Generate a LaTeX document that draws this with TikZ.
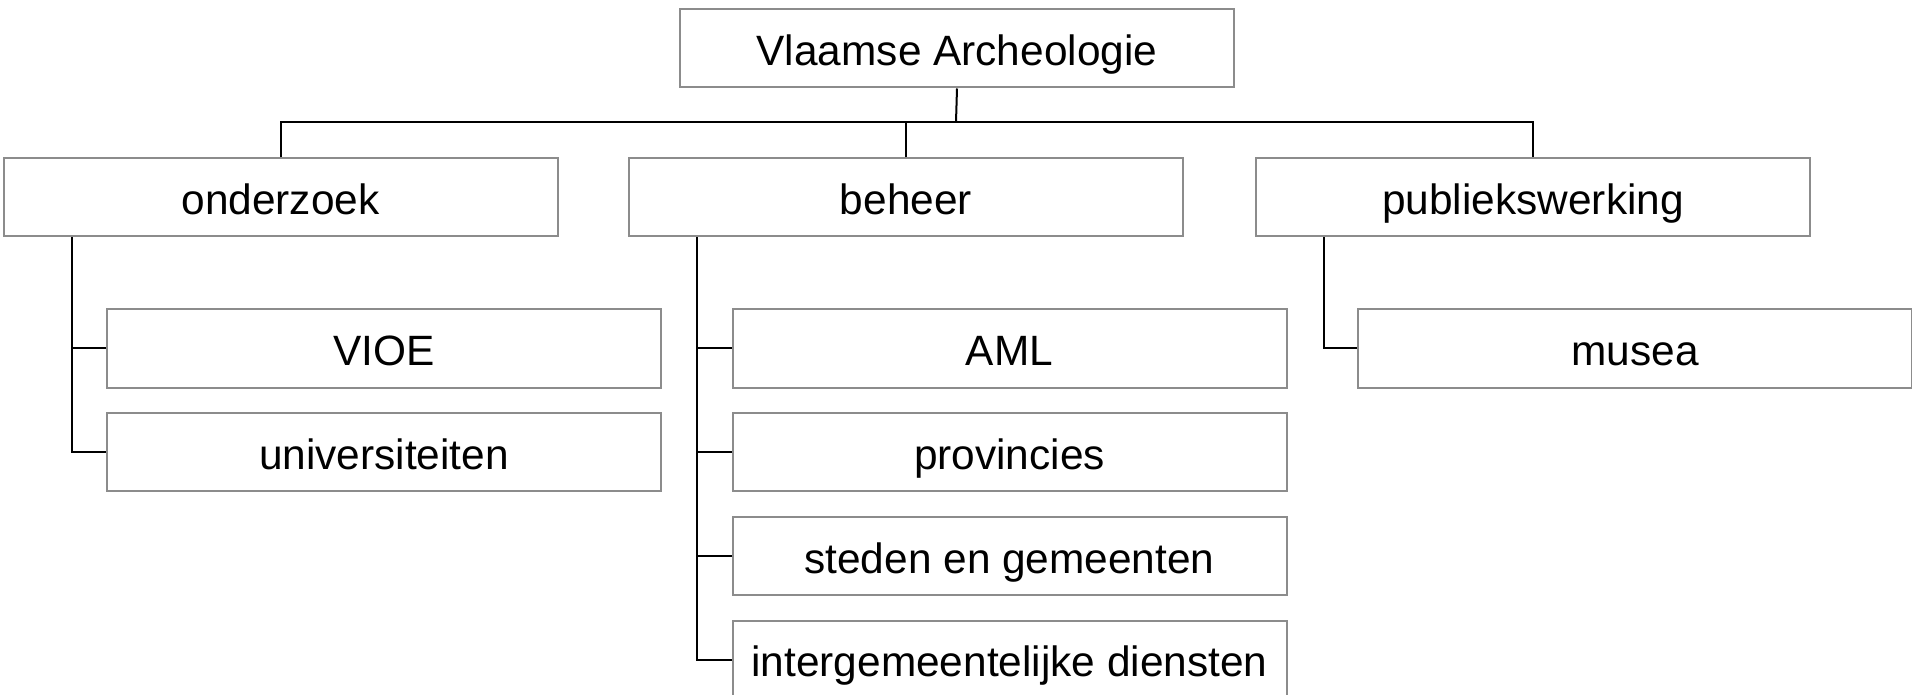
\documentclass[tikz,border=0pt]{standalone}
\usepackage{fontspec}
\setmainfont{Liberation Sans}
\usepackage{xcolor}
\definecolor{boxgray}{HTML}{8C8C8C}
\tikzset{
    org-box/.style = {draw=boxgray, fill=white, line width=1pt, rectangle, anchor=north west, minimum width=277pt, minimum height=39pt, inner sep=0pt, text height=17pt, text depth=0pt, font=\fontsize{21.2}{25}\selectfont},
    org-line/.style = {draw=black, line width=1pt},
}

\begin{document}
\begin{tikzpicture}[x=0.5pt, y=-0.5pt]
\useasboundingbox (0,0) rectangle (1912,695);
% top and first level
\node [org-box] (top) at (679,8.5) {Vlaamse Archeologie};
\node [org-box] (onderzoek) at (2.5,157.5) {onderzoek};
\node [org-box] (beheer) at (628,157.5) {beheer};
\node [org-box] (publiek) at (1255,157.5) {publiekswerking};
\coordinate (bus) at (956,122);
\draw [org-line] (top.south) -- (bus);
\draw [org-line] (onderzoek.north) |- (bus) -| (publiek.north);
\draw [org-line] (beheer.north) -- (beheer.north |- bus);
% children
\node [org-box] (vioe) at (106,308.5) {VIOE};
\node [org-box] (univ) at (106,412) {universiteiten};
\node [org-box] (aml) at (731.5,308.5) {AML};
\node [org-box] (prov) at (731.5,412) {provincies};
\node [org-box] (steden) at (731.5,516) {steden en gemeenten};
\node [org-box] (inter) at (731.5,619.5) {intergemeentelijke diensten};
\node [org-box] (musea) at (1357,308.5) {musea};
\foreach \kind in {vioe,univ}
    \draw [org-line] ([xshift=34.75pt]onderzoek.south west) |- (\kind.west);
\foreach \kind in {aml,prov,steden,inter}
    \draw [org-line] ([xshift=34.25pt]beheer.south west) |- (\kind.west);
\draw [org-line] ([xshift=34.5pt]publiek.south west) |- (musea.west);
\end{tikzpicture}
\end{document}
